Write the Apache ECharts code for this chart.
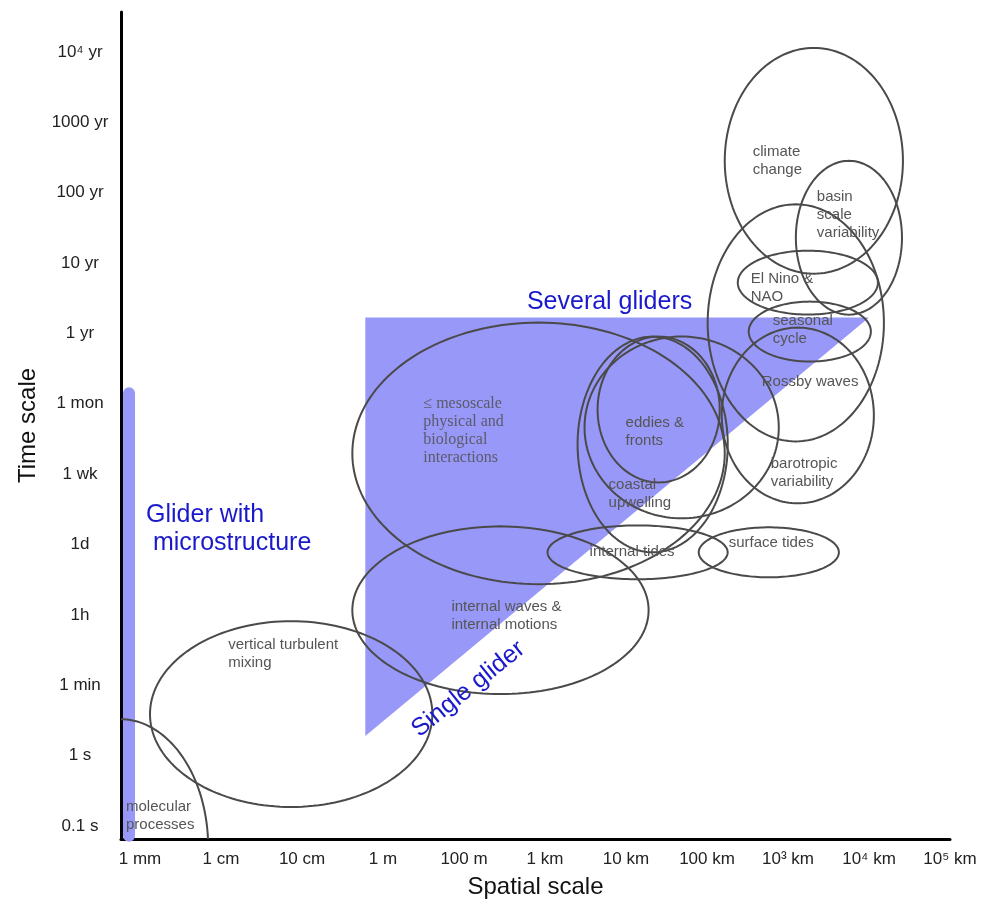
<!DOCTYPE html>
<html><head><meta charset="utf-8">
<script src="https://cdn.jsdelivr.net/npm/echarts@6/dist/echarts.min.js"></script>
<style>html,body{margin:0;padding:0;background:#fff}#c{width:984px;height:904px}</style>
</head><body><div id="c"></div>
<script>
// Tick labels (axis positions are evenly spaced indices)
const xTickLabels = ['1 mm','1 cm','10 cm','1 m','100 m','1 km','10 km','100 km','10³ km','10⁴ km','10⁵ km'];
const yTickLabels = ['0.1 s','1 s','1 min','1h','1d','1 wk','1 mon','1 yr','10 yr','100 yr','1000 yr','10⁴ yr'];

// Process ellipses (center and radii in axis-index units)
const ellipseNames = ['molecular','vertical turbulent','internal waves','mesoscale','internal tides','surface tides',
  'coastal upwelling','eddies & fronts','extra','barotropic','large','seasonal','El Nino','basin','climate'];
const ellipseCx = [-0.247, 1.866, 4.450, 4.920, 6.143, 7.763, 6.329, 6.403, 6.687, 8.121, 8.096, 8.269, 8.245, 8.752, 8.319];
const ellipseCy = [-0.298, 1.590, 3.066, 5.295, 3.889, 3.889, 5.422, 5.919, 5.664, 5.834, 7.150, 7.026, 7.722, 8.360, 9.453];
const ellipseRx = [1.088, 1.743, 1.829, 2.299, 1.112, 0.865, 0.927, 0.754, 1.199, 0.939, 1.088, 0.754, 0.865, 0.655, 1.100];
const ellipseRy = [1.817, 1.320, 1.192, 1.859, 0.383, 0.355, 1.533, 1.036, 1.292, 1.249, 1.685, 0.426, 0.454, 1.093, 1.604];

// Region labels (left edge x, middle y)
const regionLabels = ['molecular\nprocesses','vertical turbulent\nmixing','internal waves &\ninternal motions','internal tides',
  'surface tides','coastal\nupwelling','eddies &\nfronts','barotropic\nvariability','Rossby waves','seasonal\ncycle',
  'El Nino &\nNAO','basin\nscale\nvariability','climate\nchange'];
const regionLabelX = [-0.173, 1.088, 3.844, 5.550, 7.268, 5.785, 5.995, 7.787, 7.676, 7.812, 7.540, 8.356, 7.565];
const regionLabelY = [0.142, 2.441, 2.981, 3.889, 4.017, 4.727, 5.607, 5.025, 6.317, 7.055, 7.651, 8.687, 9.453];

const serifLabels = ['≤ mesoscale\nphysical and\nbiological\ninteractions'];
const serifLabelX = [3.498];
const serifLabelY = [5.621];

// Glider coverage regions
const triangleX = [2.781, 9.0, 2.781];
const triangleY = [7.225, 7.225, 1.278];
const microBarX = [-0.136, -0.136];
const microBarY = [-0.14, 6.15];

const blueTexts = ['Several gliders', 'Glider with\n microstructure', 'Single glider'];
const blueTextX = [5.797, 0.074, 4.054];
const blueTextY = [7.452, 4.216, 1.945];

const BLUE_FILL = '#9898f8';
const BLUE_TEXT = '#1a1acc';
const SANS = '"Liberation Sans", Arial, sans-serif';

const chart = echarts.init(document.getElementById('c'), null, {renderer: 'canvas'});

const option = {
  animation: false,
  backgroundColor: '#fff',
  grid: {left: 121, top: 12, width: 829, height: 828, containLabel: false},
  xAxis: {
    type: 'value', min: -0.235, max: 10,
    name: 'Spatial scale', nameLocation: 'middle', nameGap: 36,
    nameTextStyle: {fontSize: 24, color: '#111', fontFamily: SANS},
    axisLine: {show: true, onZero: false, lineStyle: {color: '#000', width: 3}},
    axisTick: {show: false}, splitLine: {show: false},
    axisLabel: {customValues: xTickLabels.map((_, i) => i), formatter: v => xTickLabels[Math.round(v)],
      fontSize: 17, color: '#222', margin: 12, fontFamily: SANS, showMaxLabel: true, showMinLabel: true}
  },
  yAxis: {
    type: 'value', min: -0.185, max: 11.568,
    name: 'Time scale', nameLocation: 'middle', nameGap: 80, nameRotate: 90,
    nameTextStyle: {fontSize: 24, color: '#111', fontFamily: SANS},
    axisLine: {show: true, onZero: false, lineStyle: {color: '#000', width: 3}},
    axisTick: {show: false}, splitLine: {show: false},
    axisLabel: {customValues: yTickLabels.map((_, i) => i), formatter: v => yTickLabels[Math.round(v)],
      fontSize: 17, color: '#222', margin: 41, align: 'center', fontFamily: SANS}
  },
  series: [
    { // several/single glider triangle
      type: 'custom', z: 1, clip: true,
      data: [[triangleX[0], triangleY[0], triangleX[1], triangleY[1], triangleX[2], triangleY[2]]],
      encode: {x: [0, 2, 4], y: [1, 3, 5]},
      renderItem: (params, api) => {
        const pts = [0, 1, 2].map(k => api.coord([api.value(2 * k), api.value(2 * k + 1)]));
        return {type: 'polygon', shape: {points: pts}, style: {fill: BLUE_FILL, stroke: null}};
      }
    },
    { // glider with microstructure bar
      type: 'line', z: 1, symbol: 'none', silent: true,
      data: microBarX.map((x, i) => [x, microBarY[i]]),
      lineStyle: {color: BLUE_FILL, width: 12, cap: 'round'}
    },
    { // ellipses
      type: 'custom', z: 3, clip: true,
      data: ellipseNames.map((n, i) => [ellipseCx[i], ellipseCy[i], ellipseRx[i], ellipseRy[i]]),
      encode: {x: 0, y: 1},
      renderItem: (params, api) => {
        const cx = api.value(0), cy = api.value(1), rx = api.value(2), ry = api.value(3);
        const pts = [];
        for (let k = 0; k < 160; k++) {
          const t = 2 * Math.PI * k / 160;
          pts.push(api.coord([cx + rx * Math.cos(t), cy + ry * Math.sin(t)]));
        }
        return {type: 'polygon', shape: {points: pts}, style: {fill: 'none', stroke: '#4a4a4a', lineWidth: 2}};
      }
    },
    { // region labels
      type: 'custom', z: 4,
      data: regionLabels.map((t, i) => [regionLabelX[i], regionLabelY[i]]),
      encode: {x: 0, y: 1},
      renderItem: (params, api) => {
        const p = api.coord([api.value(0), api.value(1)]);
        return {type: 'text', x: p[0], y: p[1], style: {text: regionLabels[params.dataIndex], fill: '#555',
          font: '15px ' + SANS, align: 'left', verticalAlign: 'middle', lineHeight: 18}};
      }
    },
    { // serif label
      type: 'custom', z: 4,
      data: serifLabels.map((t, i) => [serifLabelX[i], serifLabelY[i]]),
      encode: {x: 0, y: 1},
      renderItem: (params, api) => {
        const p = api.coord([api.value(0), api.value(1)]);
        return {type: 'text', x: p[0], y: p[1], style: {text: serifLabels[params.dataIndex], fill: '#5a5a6a',
          font: '16px "Liberation Serif", "Times New Roman", serif', align: 'left', verticalAlign: 'middle', lineHeight: 18}};
      }
    },
    { // blue annotations
      type: 'custom', z: 5,
      data: blueTexts.map((t, i) => [blueTextX[i], blueTextY[i]]),
      encode: {x: 0, y: 1},
      renderItem: (params, api) => {
        const p = api.coord([api.value(0), api.value(1)]);
        const i = params.dataIndex;
        const isLeft = i === 1;
        return {type: 'text', x: p[0], y: p[1], rotation: i === 2 ? 39 * Math.PI / 180 : 0,
          style: {text: blueTexts[i], fill: BLUE_TEXT, font: '25px ' + SANS,
            align: isLeft ? 'left' : 'center', verticalAlign: 'middle', lineHeight: 28}};
      }
    }
  ]
};
chart.setOption(option);
</script>
</body></html>
